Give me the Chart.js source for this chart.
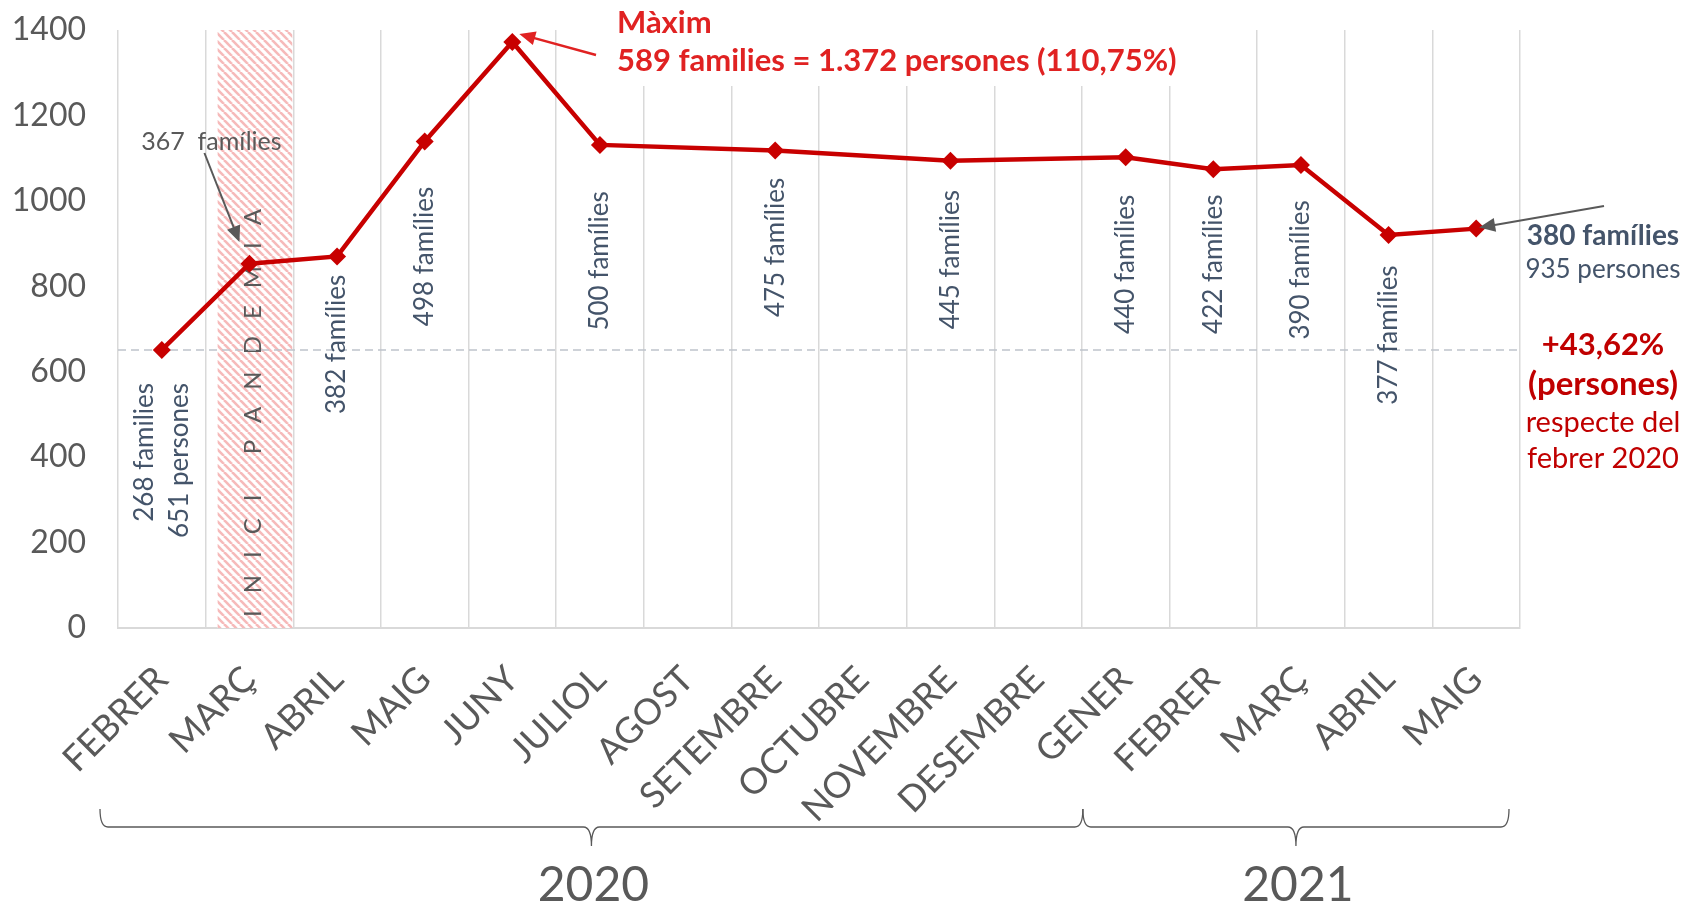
<!DOCTYPE html>
<html>
<head>
<meta charset="utf-8">
<script src="https://cdn.jsdelivr.net/npm/chart.js@4.4.1/dist/chart.umd.min.js"></script>
<style>
  html, body { margin: 0; background: #fff; }
  #wrap { width: 1693px; height: 909px; }
</style>
</head>
<body>
<div id="wrap"><canvas id="chart" width="1693" height="909"></canvas></div>
<script>
const months = ['FEBRER','MARÇ','ABRIL','MAIG','JUNY','JULIOL','AGOST','SETEMBRE','OCTUBRE','NOVEMBRE','DESEMBRE','GENER','FEBRER','MARÇ','ABRIL','MAIG'];
// persones ateses per mes (sense dades a agost, octubre i desembre)
const persons = [651, 853, 870, 1139, 1372, 1131, null, 1118, null, 1094, null, 1102, 1074, 1084, 920, 935];
const familyLabels = [null, null, '382 famílies', '498 famílies', null, '500 famílies', null, '475 famílies', null, '445 famílies', null, '440 famílies', '422 famílies', '390 famílies', '377 famílies', null];
const years = ['2020', '2021'];
const yearFirst = [0, 11];
const yearLast = [10, 15];
const baseline = 651;

const FONT = 'Lato, "Open Sans", sans-serif';
const GREY = '#595959';
const SLATE = '#44546A';
const RED = '#C80000';

// px below each point where its rotated label is centred
const labelDrop = [0, 0, 88, 115, 0, 116, 0, 97, 0, 99, 0, 107, 95, 105, 100, 0];

function arrow(ctx, x1, y1, x2, y2, color, w) {
  const a = Math.atan2(y2 - y1, x2 - x1);
  const len = 16, half = 7;
  ctx.save();
  ctx.strokeStyle = color; ctx.fillStyle = color; ctx.lineWidth = w;
  ctx.beginPath();
  ctx.moveTo(x1, y1);
  ctx.lineTo(x2 - Math.cos(a) * len * 0.8, y2 - Math.sin(a) * len * 0.8);
  ctx.stroke();
  ctx.beginPath();
  ctx.moveTo(x2, y2);
  ctx.lineTo(x2 - Math.cos(a) * len - Math.sin(a) * half, y2 - Math.sin(a) * len + Math.cos(a) * half);
  ctx.lineTo(x2 - Math.cos(a) * len + Math.sin(a) * half, y2 - Math.sin(a) * len - Math.cos(a) * half);
  ctx.closePath();
  ctx.fill();
  ctx.restore();
}

function brace(ctx, x1, x2, yTop, yLine, yTip) {
  const xm = (x1 + x2) / 2;
  ctx.beginPath();
  ctx.moveTo(x1, yTop);
  ctx.quadraticCurveTo(x1, yLine, x1 + 8, yLine);
  ctx.lineTo(xm - 8, yLine);
  ctx.quadraticCurveTo(xm, yLine, xm, yTip);
  ctx.moveTo(xm, yTip);
  ctx.quadraticCurveTo(xm, yLine, xm + 8, yLine);
  ctx.lineTo(x2 - 8, yLine);
  ctx.quadraticCurveTo(x2, yLine, x2, yTop);
  ctx.stroke();
}

function hatchPattern(ctx) {
  const s = 8;
  const c = document.createElement('canvas');
  c.width = s; c.height = s;
  const p = c.getContext('2d');
  p.fillStyle = '#fff';
  p.fillRect(0, 0, s, s);
  p.strokeStyle = '#F6BABA';
  p.lineWidth = 2.6;
  for (let k = -1; k <= 1; k++) {
    p.beginPath();
    p.moveTo(k * s, 0);
    p.lineTo(k * s + s, s);
    p.stroke();
  }
  return ctx.createPattern(c, 'repeat');
}

const decor = {
  id: 'decor',
  beforeDatasetsDraw(chart) {
    const { ctx, chartArea: ca, scales: { x, y } } = chart;
    const step = x.getPixelForValue(1) - x.getPixelForValue(0);
    // pandemic band on MARÇ 2020
    const bl = x.getPixelForValue(1) - step / 2 + 12;
    const br = x.getPixelForValue(1) + step / 2 - 1;
    ctx.save();
    ctx.fillStyle = hatchPattern(ctx);
    ctx.fillRect(bl, ca.top, br - bl, ca.bottom - ca.top);
    // INICI PANDEMIA, spaced letters
    ctx.translate((bl + br) / 2 - 2, ca.bottom - 215);
    ctx.rotate(-Math.PI / 2);
    ctx.font = `24px ${FONT}`;
    ctx.fillStyle = GREY;
    ctx.textBaseline = 'middle';
    const word = 'INICI PANDEMIA';
    const track = 17;
    let total = 0;
    for (const ch of word) total += ctx.measureText(ch).width + track;
    total -= track;
    let pos = -total / 2;
    for (const ch of word) {
      ctx.fillText(ch, pos, 0);
      pos += ctx.measureText(ch).width + track;
    }
    ctx.restore();
    // dashed reference line at febrer 2020
    const yb = y.getPixelForValue(baseline);
    ctx.save();
    ctx.strokeStyle = '#BFC3CB';
    ctx.lineWidth = 1.5;
    ctx.setLineDash([8, 5]);
    ctx.beginPath();
    ctx.moveTo(ca.left, yb);
    ctx.lineTo(ca.right, yb);
    ctx.stroke();
    ctx.restore();
  },
  afterDatasetsDraw(chart) {
    const { ctx } = chart;
    const pts = chart.getDatasetMeta(0).data;
    ctx.save();
    ctx.fillStyle = SLATE;
    ctx.font = `26px ${FONT}`;
    ctx.textBaseline = 'middle';
    familyLabels.forEach((t, i) => {
      if (!t) return;
      ctx.save();
      ctx.translate(pts[i].x, pts[i].y + labelDrop[i]);
      ctx.rotate(-Math.PI / 2);
      ctx.textAlign = 'center';
      ctx.fillText(t, 0, 0);
      ctx.restore();
    });
    // febrer 2020, two lines
    ctx.save();
    ctx.translate(pts[0].x, pts[0].y + 33);
    ctx.rotate(-Math.PI / 2);
    ctx.textAlign = 'right';
    ctx.fillText('268 families', 0, -17);
    ctx.fillText('651 persones', 0, 18);
    ctx.restore();
    ctx.restore();
  },
  afterDraw(chart) {
    const { ctx, scales: { x } } = chart;
    const pts = chart.getDatasetMeta(0).data;
    const step = x.getPixelForValue(1) - x.getPixelForValue(0);

    // màxim
    ctx.save();
    ctx.fillStyle = '#fff';
    ctx.fillRect(606, 0, 578, 86);
    ctx.fillStyle = '#E02222';
    ctx.font = `bold 31px ${FONT}`;
    ctx.textBaseline = 'alphabetic';
    ctx.fillText('Màxim', 617, 33);
    ctx.fillText('589 families = 1.372 persones (110,75%)', 617, 71);
    ctx.restore();
    arrow(ctx, 596, 55, pts[4].x + 7, pts[4].y - 8, '#E02222', 2.5);

    // 367 famílies (març)
    ctx.save();
    ctx.fillStyle = GREY;
    ctx.font = `25px ${FONT}`;
    ctx.textAlign = 'center';
    ctx.textBaseline = 'middle';
    ctx.fillText('367  famílies', pts[1].x - 38, 142);
    ctx.restore();
    arrow(ctx, pts[1].x - 45, 153, pts[1].x - 10, 242, GREY, 2);

    // maig 2021 note
    ctx.save();
    ctx.textAlign = 'center';
    ctx.textBaseline = 'middle';
    ctx.fillStyle = SLATE;
    ctx.font = `bold 28px ${FONT}`;
    ctx.fillText('380 famílies', 1603, 236);
    ctx.font = `26px ${FONT}`;
    ctx.fillText('935 persones', 1603, 270);
    ctx.fillStyle = '#C00000';
    ctx.font = `bold 31px ${FONT}`;
    ctx.fillText('+43,62%', 1603, 345);
    ctx.font = `bold 33px ${FONT}`;
    ctx.fillText('(persones)', 1603, 384);
    ctx.font = `29px ${FONT}`;
    ctx.fillText('respecte del', 1603, 423);
    ctx.fillText('febrer 2020', 1603, 459);
    ctx.restore();
    arrow(ctx, 1604, 206, pts[15].x + 3, pts[15].y - 1, GREY, 2);

    // year braces
    ctx.save();
    ctx.strokeStyle = GREY;
    ctx.lineWidth = 1.3;
    ctx.fillStyle = GREY;
    ctx.font = `48px ${FONT}`;
    ctx.textAlign = 'center';
    ctx.textBaseline = 'middle';
    years.forEach((yr, k) => {
      let x1 = x.getPixelForValue(yearFirst[k]) - step / 2 + 1;
      let x2 = x.getPixelForValue(yearLast[k]) + step / 2 + 1;
      if (k === 0) x1 -= 19;
      if (k === years.length - 1) x2 -= 12;
      brace(ctx, x1, x2, 809, 827, 846);
      ctx.fillText(yr, (x1 + x2) / 2 + 2, 886);
    });
    ctx.restore();
  }
};

new Chart(document.getElementById('chart'), {
  type: 'line',
  data: {
    labels: months,
    datasets: [{
      data: persons,
      borderColor: RED,
      borderWidth: 4.5,
      backgroundColor: RED,
      pointStyle: 'rectRot',
      pointRadius: 9,
      pointBorderWidth: 0,
      pointBackgroundColor: RED,
      spanGaps: true,
      tension: 0
    }]
  },
  options: {
    responsive: false,
    animation: false,
    devicePixelRatio: 1,
    layout: { padding: { top: 30, right: 173, bottom: 0, left: 0 } },
    plugins: { legend: { display: false }, tooltip: { enabled: false } },
    scales: {
      x: {
        offset: true,
        grid: { offset: true, color: '#D9D9D9', lineWidth: 1.5, drawTicks: false },
        border: { color: '#D9D9D9', width: 2 },
        ticks: {
          color: GREY, font: { family: FONT, size: 36 },
          maxRotation: 45, minRotation: 45, autoSkip: false, padding: 30
        },
        afterFit(s) { s.height = 909 - 628; }
      },
      y: {
        min: 0, max: 1400,
        grid: { display: false, drawTicks: false },
        border: { display: false },
        ticks: {
          stepSize: 200, color: GREY, font: { family: FONT, size: 32 }, padding: 32,
          callback: v => String(v)
        },
        afterFit(s) { s.width = 118; s.paddingTop = 0; s.paddingBottom = 0; }
      }
    }
  },
  plugins: [decor]
});
</script>
</body>
</html>
